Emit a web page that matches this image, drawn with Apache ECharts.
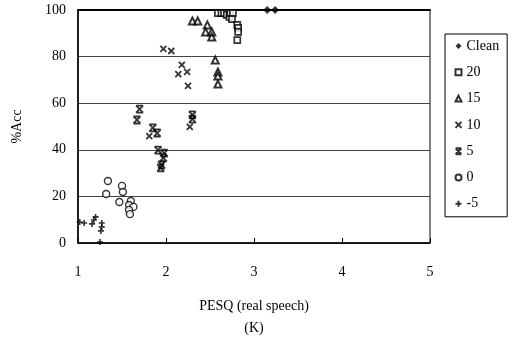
<!DOCTYPE html>
<html>
<head>
<meta charset="utf-8">
<script src="https://cdn.jsdelivr.net/npm/echarts@6/dist/echarts.min.js"></script>
<style>
  html, body { margin: 0; padding: 0; background: #fff; }
  #chart { width: 513px; height: 345px; }
</style>
</head>
<body>
<div id="chart"></div>
<script>
// points: [PESQ, %Acc]
const clean = [[3.15, 100], [3.24, 100]];
const snr20 = [[2.59, 98.7], [2.63, 98.7], [2.66, 98.7], [2.69, 97.9], [2.72, 97], [2.73, 98.7],
               [2.76, 98.7], [2.75, 96.1], [2.81, 93.6], [2.82, 92.3], [2.82, 90.6], [2.81, 87.1]];
const snr15 = [[2.30, 95.3], [2.36, 95.3], [2.47, 93.6], [2.45, 90.6], [2.52, 90.6], [2.52, 88.4],
               [2.56, 78.5], [2.59, 73.4], [2.59, 71.7], [2.59, 68.2]];
const snr10 = [[1.97, 83.3], [2.06, 82.4], [2.18, 76.4], [2.24, 73.4], [2.14, 72.5], [2.25, 67.4],
               [2.27, 49.8], [1.81, 45.9]];
const snr5 = [[1.70, 57.5], [1.67, 52.8], [1.85, 49.4], [1.90, 47.2], [1.91, 39.9], [1.98, 38.6],
              [1.97, 36.5], [1.95, 33.5], [1.94, 32.2], [2.30, 55], [2.30, 53.2]];
const snr0 = [[1.34, 26.6], [1.32, 21.0], [1.50, 24.5], [1.51, 21.9], [1.47, 17.6], [1.60, 18.0],
              [1.58, 16.3], [1.63, 15.5], [1.58, 14.2], [1.59, 12.4]];
const snrM5 = [[1.02, 9.0], [1.07, 8.6], [1.16, 8.2], [1.18, 9.9], [1.20, 11.2], [1.27, 8.6],
               [1.27, 6.9], [1.26, 5.2], [1.25, 0.4]];

const seriesNames = ['Clean', '20', '15', '10', '5', '0', '-5'];

let chart = echarts.init(document.getElementById('chart'));

const xMark = 'path://M0,0L10,10M10,0L0,10';
const hourglass = 'path://M0,0L10,10M10,0L0,10M0,0L10,0M0,10L10,10';
const plus = 'path://M5,0L5,10M0,5L10,5';

function hollow(w) {
  return { color: '#fff', borderColor: '#000', borderWidth: w };
}
function lines(w) {
  return { color: 'none', borderColor: '#000', borderWidth: w };
}

const option = {
  backgroundColor: '#fff',
  animation: false,
  textStyle: { fontFamily: 'Liberation Serif', color: '#000' },
  grid: {
    left: 78, right: 83, top: 10, bottom: 102,
    show: true, borderColor: '#000', borderWidth: 1
  },
  legend: {
    orient: 'vertical',
    left: 445,
    top: 34,
    padding: [5, 8, 6, 8],
    borderColor: '#000',
    borderWidth: 1,
    itemWidth: 6,
    itemHeight: 6,
    itemGap: 12.3,
    textStyle: { fontFamily: 'Liberation Serif', fontSize: 14, color: '#000', lineHeight: 14 },
    data: seriesNames
  },
  xAxis: [{
    type: 'value',
    min: 1, max: 5, interval: 1,
    name: 'PESQ (real speech)\n(K)',
    nameLocation: 'middle',
    nameGap: 52,
    nameTextStyle: { fontFamily: 'Liberation Serif', fontSize: 14, color: '#000', lineHeight: 22 },
    axisLine: { lineStyle: { color: '#000', width: 1.5 } },
    axisTick: { inside: true, length: 5, lineStyle: { color: '#000' } },
    axisLabel: { fontFamily: 'Liberation Serif', fontSize: 14, color: '#000', margin: 22 },
    splitLine: { show: false }
  }, {
    // heavier line along the top at 100 %
    type: 'value', position: 'top',
    min: 1, max: 5, interval: 1,
    axisLine: { show: true, lineStyle: { color: '#000', width: 2 } },
    axisTick: { show: false },
    axisLabel: { show: false },
    splitLine: { show: false }
  }],
  yAxis: {
    type: 'value',
    min: 0, max: 100, interval: 20,
    name: '%Acc',
    nameLocation: 'middle',
    nameGap: 54,
    nameTextStyle: { fontFamily: 'Liberation Serif', fontSize: 14, color: '#000' },
    axisLine: { show: true, lineStyle: { color: '#000', width: 1.5 } },
    axisTick: { show: false },
    axisLabel: { fontFamily: 'Liberation Serif', fontSize: 14, color: '#000', margin: 12 },
    splitLine: { show: true, lineStyle: { color: '#444', width: 1 } }
  },
  series: [
    { name: 'Clean', type: 'scatter', symbol: 'diamond', symbolSize: 8, data: clean,
      itemStyle: { color: '#000' } },
    { name: '20', type: 'scatter', symbol: 'rect', symbolSize: 6, data: snr20, itemStyle: hollow(1.7) },
    { name: '15', type: 'scatter', symbol: 'triangle', symbolSize: 7, data: snr15, itemStyle: hollow(2) },
    { name: '10', type: 'scatter', symbol: xMark, symbolSize: 6, data: snr10, itemStyle: lines(1.8) },
    { name: '5', type: 'scatter', symbol: hourglass, symbolSize: 7, data: snr5, itemStyle: lines(1.8) },
    { name: '0', type: 'scatter', symbol: 'circle', symbolSize: 7, data: snr0, itemStyle: hollow(1.4) },
    { name: '-5', type: 'scatter', symbol: plus, symbolSize: 6, data: snrM5, itemStyle: lines(1.6) }
  ]
};

chart.setOption(option);
</script>
</body>
</html>
